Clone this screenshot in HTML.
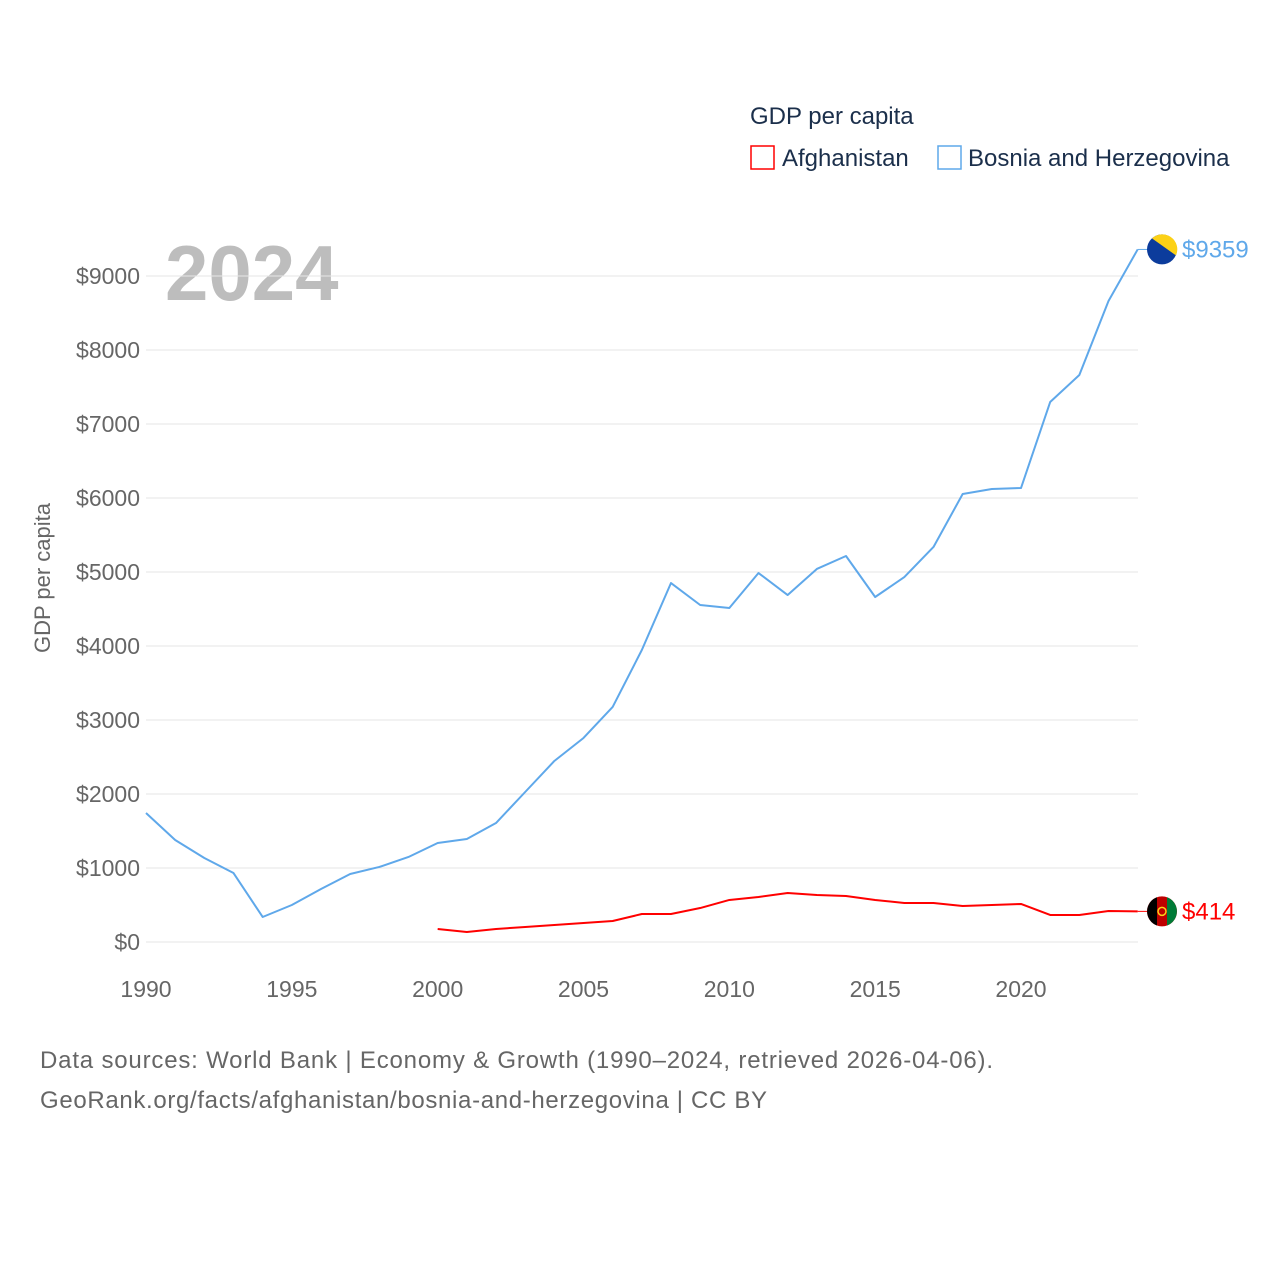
<!DOCTYPE html>
<html><head><meta charset="utf-8"><style>
body{margin:0;background:#fff;font-family:"Liberation Sans",sans-serif}
svg text{font-family:"Liberation Sans",sans-serif}
</style></head><body>
<svg id="c" width="1280" height="1280" xmlns="http://www.w3.org/2000/svg">
<rect width="1280" height="1280" fill="#fff"/>
<text x="750" y="124" font-size="24" fill="#1b2f4b">GDP per capita</text>
<g><rect x="751" y="146" width="23" height="23" fill="none" stroke="#ff0000" stroke-width="1.5"/><text x="782" y="166" font-size="24" fill="#1b2f4b">Afghanistan</text></g>
<g><rect x="938" y="146" width="23" height="23" fill="none" stroke="#5fa8ea" stroke-width="1.5"/><text x="968" y="166" font-size="24" fill="#1b2f4b">Bosnia and Herzegovina</text></g>
<text x="165" y="300" font-size="78" font-weight="bold" fill="#bdbdbd">2024</text>
<text transform="translate(50,578) rotate(-90)" text-anchor="middle" font-size="22" fill="#666">GDP per capita</text>
<g id="grid"></g><g id="xt"></g><g id="lines"></g>
<text x="40" y="1068" font-size="24" fill="#666" textLength="953">Data sources: World Bank | Economy &amp; Growth (1990–2024, retrieved 2026-04-06).</text>
<text x="40" y="1108" font-size="24" fill="#666" textLength="727">GeoRank.org/facts/afghanistan/bosnia-and-herzegovina | CC BY</text>
</svg>
<script>
const yTicks=[0,1000,2000,3000,4000,5000,6000,7000,8000,9000];
const xTicks=[1990,1995,2000,2005,2010,2015,2020];
const bihYears=[1990,1991,1992,1993,1994,1995,1996,1997,1998,1999,2000,2001,2002,2003,2004,2005,2006,2007,2008,2009,2010,2011,2012,2013,2014,2015,2016,2017,2018,2019,2020,2021,2022,2023,2024];
const bihValues=[1743,1378,1135,932,338,500,716,919,1014,1149,1338,1392,1608,2027,2446,2757,3176,3946,4851,4554,4514,4986,4689,5041,5216,4662,4932,5338,6054,6122,6135,7297,7662,8662,9359];
const afgYears=[2000,2001,2002,2003,2004,2005,2006,2007,2008,2009,2010,2011,2012,2013,2014,2015,2016,2017,2018,2019,2020,2021,2022,2023,2024];
const afgValues=[176,135,176,203,230,257,284,378,378,459,568,608,662,635,622,568,527,527,486,500,514,365,365,419,414];
const NS='http://www.w3.org/2000/svg';
const X=y=>146+(y-1990)*875/30;
const Y=v=>942-v*0.074;
function mk(t,a,p){const e=document.createElementNS(NS,t);for(const k in a)e.setAttribute(k,a[k]);p.appendChild(e);return e;}
const g=document.getElementById('grid');
yTicks.forEach(v=>{
 const l=mk('line',{x1:146,x2:1138,y1:Y(v),y2:Y(v),stroke:'#e6e6e6','stroke-width':1},g);
 
 
 const t=mk('text',{x:140,y:Y(v)+8,'text-anchor':'end','font-size':23,fill:'#666'},g);
 t.textContent='$'+v;
 
 
});
const xg=document.getElementById('xt');
xTicks.forEach(v=>{
 const t=mk('text',{x:X(v),y:997,'text-anchor':'middle','font-size':23,fill:'#666'},xg);
 t.textContent=v;
 
 
});
const L=document.getElementById('lines');
function series(yrs,vals,col,name){
 const n=yrs.length;
 const pts=yrs.map((y,i)=>X(y)+','+Y(vals[i])).join(' ');
 const p=mk('polyline',{points:pts,fill:'none',stroke:col,'stroke-width':2,'stroke-linejoin':'round'},L);
 
 
 const last=Y(vals[n-1]);
 const c=mk('line',{x1:X(yrs[n-1]),y1:last,x2:1150,y2:last,stroke:col,'stroke-width':1},L);
 
 
 return last;
}
const by=series(bihYears,bihValues,'#5fa8ea','bosnia');
const ay=series(afgYears,afgValues,'#ff0000','afghanistan');
const bf=mk('g',{},L);


mk('circle',{cx:1162,cy:by,r:15,fill:'#0c3c9c'},bf);
mk('path',{d:`M${1152},${by-11} A15 15 0 0 1 ${1176},${by+6} Z`,fill:'#fcd116'},bf);
const bl=mk('text',{x:1182,y:by+8,'font-size':24,fill:'#5fa8ea'},L);
bl.textContent='$'+bihValues[bihValues.length-1];


const af=mk('g',{},L);


mk('circle',{cx:1162,cy:ay,r:15,fill:'#be0000'},af);
mk('path',{d:`M1157,${ay-14.1} A15 15 0 0 0 1157,${ay+14.1} Z`,fill:'#000'},af);
mk('path',{d:`M1167,${ay-14.1} A15 15 0 0 1 1167,${ay+14.1} Z`,fill:'#007a36'},af);
mk('circle',{cx:1162,cy:ay,r:4,fill:'none',stroke:'#fcd116','stroke-width':1.5},af);
const al=mk('text',{x:1182,y:ay+8,'font-size':24,fill:'#ff0000'},L);
al.textContent='$'+afgValues[afgValues.length-1];


</script>
</body></html>
